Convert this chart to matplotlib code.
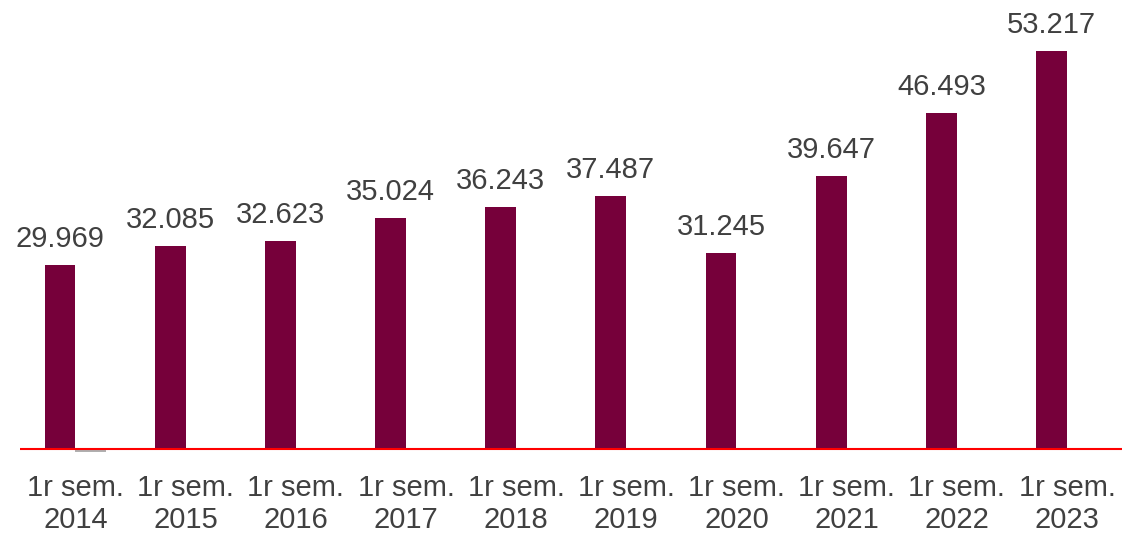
import numpy as np
import matplotlib
matplotlib.use("Agg")
import matplotlib.pyplot as plt

plt.rcParams['font.family'] = ['Liberation Sans', 'DejaVu Sans']

years = ["2014", "2015", "2016", "2017", "2018", "2019", "2020", "2021", "2022", "2023"]
values = [29.969, 32.085, 32.623, 35.024, 36.243, 37.487, 31.245, 39.647, 46.493, 53.217]
second = [9.7, 10, 10, 10, 10, 10, 10, 10, 10, 10]
labels = ["29.969", "32.085", "32.623", "35.024", "36.243",
          "37.487", "31.245", "39.647", "46.493", "53.217"]
ticklabels = ["1r sem.\n" + y for y in years]
base = 10

fig = plt.figure(figsize=(11.3, 5.35), dpi=100)
ax = fig.add_axes([0.018, 1 - 456.5 / 535, 0.975, 456.5 / 535])

x = np.arange(len(years))
w = 0.28
ax.bar(x - w / 2, np.array(values) - base, w, bottom=base, color="#76003a")
ax.bar(x + w / 2, np.array(second) - base, w, bottom=base, color="#b0b0b0")
ax.axhline(base, color="#ff0000", lw=1.5)

for xi, v, t in zip(x, values, labels):
    ax.text(xi - w / 2, v + 1.3, t, ha="center", va="bottom", fontsize=21, color="#404040")

ax.set_xlim(-0.5, 9.5)
ax.set_ylim(9.19, 58.73)
ax.set_xticks(x)
ax.set_xticklabels(ticklabels, fontsize=21, color="#404040", linespacing=1.2)
ax.tick_params(axis="x", length=0, pad=12.5)
ax.set_yticks([])
for s in ax.spines.values():
    s.set_visible(False)

fig.savefig("out.png", dpi=100)
